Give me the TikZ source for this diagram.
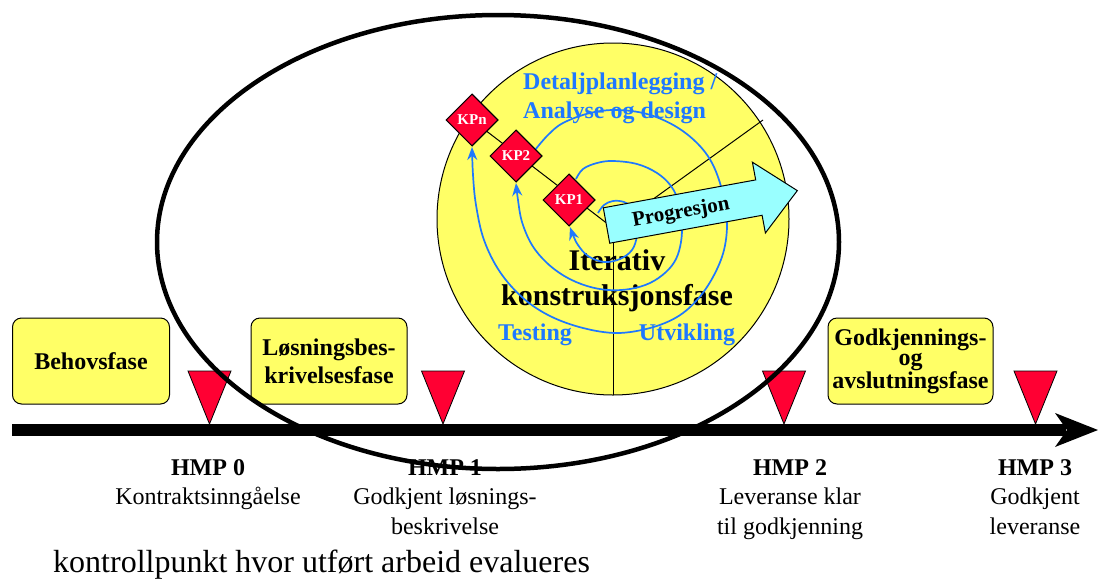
\documentclass[tikz,border=0pt]{standalone}
\usepackage{fontspec}
\setmainfont{Liberation Serif}
\usetikzlibrary{shapes.geometric,arrows.meta}
\definecolor{phaseyellow}{HTML}{FFFF66}
\definecolor{mred}{HTML}{FF0033}
\definecolor{pcyan}{HTML}{99FFFF}
\definecolor{sblue}{HTML}{1E78FF}
\newcommand{\myfs}[2]{\fontsize{#1}{#2}\selectfont}
\begin{document}
\begin{tikzpicture}[x=1pt,y=-1pt,
 phase/.style={draw, fill=phaseyellow, rounded corners=9pt, line width=1pt, minimum height=86pt, align=center, inner sep=0pt, font=\bfseries\myfs{24}{28}},
 mile/.style={draw, fill=mred, line width=0.8pt},
 kp/.style={diamond, draw, fill=mred, line width=1pt, minimum width=52pt, minimum height=52pt, inner sep=0pt, text=white, font=\bfseries\myfs{15}{16}},
 hmp/.style={anchor=north, inner sep=0pt, align=center, font=\myfs{24}{29.5}},
 bluelbl/.style={text=sblue, font=\bfseries\myfs{24}{29}, inner sep=0pt},
 spiral/.style={draw=sblue, line width=1.7pt, -{Stealth[length=13pt,width=10pt]}},
 quadline/.style={draw=black, line width=1pt},
]
\useasboundingbox (0,0) rectangle (1098,579);

% yellow circle of the iterative phase
\coordinate (cc) at (613,219);
\draw[fill=phaseyellow, line width=1pt] (cc) circle[radius=176];

% checkpoints and quadrant lines
\coordinate (C) at (613,228);
\coordinate (qUR) at (763,120);
\coordinate (qB) at (613,395);
\node[kp] (kpn) at (472,120) {KPn};
\node[kp] (kp2) at (516,156) {KP2};
\node[kp] (kp1) at (569,200) {KP1};
\draw[quadline] (C) -- (kpn.center);
\draw[quadline] (C) -- (qUR);
\draw[quadline] (C) -- (qB);

% texts inside the circle
\node[bluelbl, anchor=north west, align=left] (dap) at (523,73) {Detaljplanlegging /\\Analyse og design};
\node[font=\bfseries\myfs{30}{35}, align=center, inner sep=0pt] (ik) at (617,281) {Iterativ\\konstruksjonsfase};
\node[bluelbl] (test) at (535,335) {Testing};
\node[bluelbl] (utv) at (687,335) {Utvikling};

% spiral
\draw[spiral] plot[smooth, tension=0.6] coordinates {(598,213) (604,205) (613,201) (624,202) (633,208) (638,220) (637,236) (632,250) (620,259) (604,262) (588,256) (578,245) (573,235) (570,227)};
\draw[spiral] plot[smooth, tension=0.6] coordinates {(576,179) (583,169) (597,163) (613,161) (637,164) (657,173) (671,186) (679,203) (682,222) (681,242) (676,259) (666,272) (650,283) (630,289) (608,290) (587,286) (566,277) (547,263) (532,245) (522,222) (518,200) (516,183)};
\draw[spiral] plot[smooth, tension=0.6] coordinates {(535,150) (548,135) (563,123) (590,113) (617,110) (647,114) (675,126) (697,143) (712,163) (722,190) (727,220) (724,250) (713,277) (697,300) (677,317) (650,328) (617,333) (583,328) (550,316) (523,298) (500,272) (484,240) (476,205) (473,175) (472,147)};

% checkpoints redrawn on top of the spiral
\node[kp] at (kpn) {KPn};
\node[kp] at (kp2) {KP2};
\node[kp] at (kp1) {KP1};

% progression arrow
\draw[fill=pcyan, line width=1pt] (603.3,207.8) -- (755.7,179.9) -- (752.4,162.2) -- (797.3,190.6) -- (765.4,233) -- (762.1,215.3) -- (609.7,243.2) -- cycle;
\node[rotate=10.4, font=\bfseries\myfs{21}{24}, inner sep=0pt] (prog) at (681,213) {Progresjon};

% phase boxes
\node[phase, minimum width=157pt] (beh) at (91,361) {Behovsfase};
\node[phase, minimum width=156pt] (los) at (329,361) {Løsningsbes-\\krivelsesfase};
\node[phase, minimum width=165pt, font=\bfseries\myfs{24}{20}] (god) at (910.5,361) {Godkjennings-\\og\\avslutningsfase};

% time axis
\coordinate (axL) at (12,430);
\coordinate (axE) at (1066,430);
\coordinate (axT) at (1098,430);
\draw[line width=12pt] (axL) -- (axE);
\fill (1055,413) -- (axT) -- (1055,447) -- (1067,430) -- cycle;

% milestone triangles
\coordinate (m0) at (209.5,424);
\coordinate (m1) at (443,424);
\coordinate (m2) at (784,424);
\coordinate (m3) at (1035.5,424);
\foreach \m in {m0,m1,m2,m3}{
  \draw[mile] (\m) -- ++(-21.5,-53) -- ++(43,0) -- cycle;
}

% milestone labels
\node[hmp] (h0) at (208,459) {\textbf{HMP 0}\\Kontraktsinngåelse};
\node[hmp] (h1) at (445,459) {\textbf{HMP 1}\\Godkjent løsnings-\\beskrivelse};
\node[hmp] (h2) at (790,459) {\textbf{HMP 2}\\Leveranse klar\\til godkjenning};
\node[hmp] (h3) at (1035,459) {\textbf{HMP 3}\\Godkjent\\leveranse};

\node[anchor=base west, inner sep=0pt, font=\myfs{32}{36}] (note) at (53,572) {kontrollpunkt hvor utført arbeid evalueres};

% big ellipse of the construction phase
\coordinate (ec) at (498,242);
\draw[line width=4.5pt] (ec) ellipse[x radius=341, y radius=227];
\end{tikzpicture}
\end{document}
